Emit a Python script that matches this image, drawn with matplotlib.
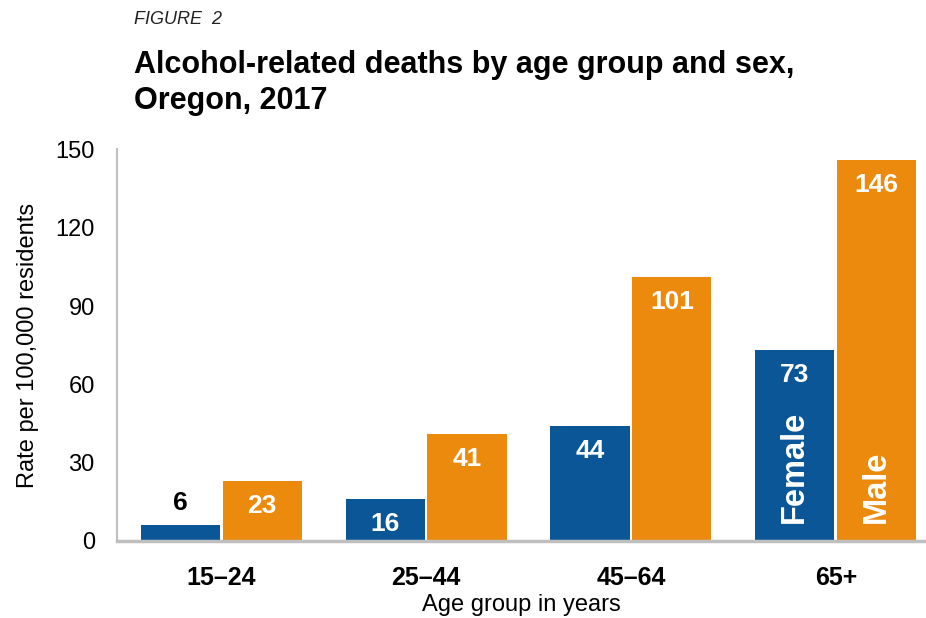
import numpy as np
import matplotlib.pyplot as plt

plt.rcParams['font.family'] = ['Liberation Sans', 'DejaVu Sans']

groups = ['15\u201324', '25\u201344', '45\u201364', '65+']
female = [6, 16, 44, 73]
male = [23, 41, 101, 146]

blue = '#0B5697'
orange = '#EB8A0C'

fig = plt.figure(figsize=(9.26, 6.18), dpi=100)
ax = fig.add_axes([0.1264, 0.1246, 0.8736, 0.6335])

x = np.arange(len(groups))
w = 0.386
bf = ax.bar(x - 0.2, female, w, color=blue)
bm = ax.bar(x + 0.2, male, w, color=orange)

ax.set_xlim(-0.508, 3.44)
ax.set_ylim(0, 150)
ax.set_yticks([0, 30, 60, 90, 120, 150])
ax.tick_params(axis='y', length=0, labelsize=17, pad=16)
ax.tick_params(axis='x', length=0, labelsize=18, pad=18)
ax.set_xticks(x)
ax.set_xticklabels(groups, fontweight='bold')

for s in ['top', 'right']:
    ax.spines[s].set_visible(False)
ax.spines['left'].set_color('#BFBFBF')
ax.spines['left'].set_linewidth(1.5)
ax.spines['bottom'].set_color('#BFBFBF')
ax.spines['bottom'].set_linewidth(2.5)

ax.set_ylabel('Rate per 100,000 residents', fontsize=17, labelpad=12)
ax.set_xlabel('Age group in years', fontsize=17, labelpad=3)

# value labels
for i in range(len(groups)):
    if female[i] < 10:
        ax.annotate(str(female[i]), (x[i] - 0.2, female[i]), xytext=(0, 16),
                    textcoords='offset points', ha='center', va='center',
                    fontsize=19, fontweight='bold', color='black')
    else:
        ax.annotate(str(female[i]), (x[i] - 0.2, female[i]), xytext=(0, -18),
                    textcoords='offset points', ha='center', va='center',
                    fontsize=19, fontweight='bold', color='white')
    ax.annotate(str(male[i]), (x[i] + 0.2, male[i]), xytext=(0, -18),
                textcoords='offset points', ha='center', va='center',
                fontsize=19, fontweight='bold', color='white')

ax.annotate('Female', (x[3] - 0.2, 0), xytext=(0, 13), textcoords='offset points',
            ha='center', va='bottom', rotation=90, fontsize=23.5,
            fontweight='bold', color='white')
ax.annotate('Male', (x[3] + 0.2, 0), xytext=(0, 13), textcoords='offset points',
            ha='center', va='bottom', rotation=90, fontsize=23.5,
            fontweight='bold', color='white')

fig.text(134 / 926, 1 - 20 / 618, 'FIGURE  2', fontsize=13, style='italic',
         ha='left', va='center', color='#222222')
fig.text(134 / 926, 1 - 83 / 618,
         'Alcohol-related deaths by age group and sex,\nOregon, 2017',
         fontsize=22, fontweight='bold', ha='left', va='center',
         linespacing=1.25, color='black')

plt.savefig('out.png', dpi=100)
